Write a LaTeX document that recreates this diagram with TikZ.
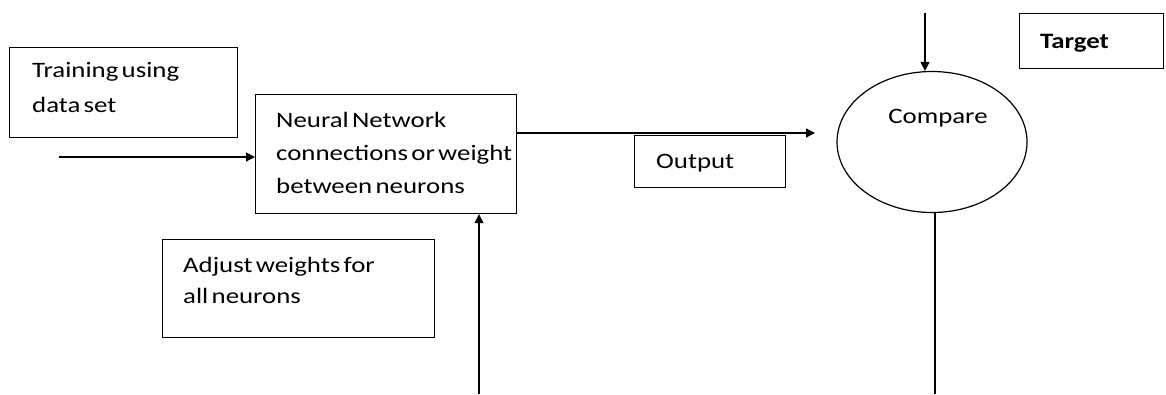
\documentclass[tikz,border=0pt]{standalone}
\usepackage{fontspec}
\setmainfont{Carlito}[FakeStretch=1.22, WordSpace=0.55]
\usetikzlibrary{arrows.meta,shapes.geometric}
\tikzset{
  box/.style={draw=black, line width=1.2pt, rectangle, anchor=north west, inner sep=0pt},
  txt/.style={anchor=base west, inner sep=0pt, align=left, text=black},
  conn/.style={line width=1.2pt, -{Triangle[length=9pt,width=9pt]}},
  plain/.style={line width=1.2pt}
}
\begin{document}
\begin{tikzpicture}[x=1pt, y=-1pt, font=\fontsize{22}{35}\selectfont]
\useasboundingbox (0,0) rectangle (1166,394);
% boxes
\node[box, minimum width=228pt, minimum height=90pt] (train) at (9,47) {};
\node[box, minimum width=261pt, minimum height=119pt] (nn) at (255,94) {};
\node[box, minimum width=151pt, minimum height=52pt] (out) at (634,135) {};
\node[box, minimum width=272pt, minimum height=98pt] (adj) at (162,239) {};
\node[box, minimum width=144pt, minimum height=55pt] (target) at (1019,13) {};
\node[draw=black, line width=1.2pt, ellipse, minimum width=190pt, minimum height=141pt, inner sep=0pt] (cmp) at (932,142) {};
% texts (anchored at the baseline of the last line)
\node[txt] (traint) at (32,112) {Training using\\data set};
\node[txt, font=\fontsize{22}{33}\selectfont] (nnt) at (276,193) {Neural Network\\connections or weight\\between neurons};
\node[txt] (outt) at (656,168) {Output};
\node[txt, font=\fontsize{22}{31}\selectfont] (adjt) at (183,303) {Adjust weights for\\all neurons};
\node[txt, font=\bfseries\fontsize{22}{35}\selectfont] (targett) at (1040,48) {Target};
\node[txt, anchor=base] (cmpt) at (938,123) {Compare};
% connectors
\coordinate (inS) at (59,157);
\coordinate (tgtS) at (925,13);
\coordinate (upS) at (479,394);
\coordinate (cmpE) at (935,394);
\coordinate (outE) at (815,133);
\draw[conn] (inS) -- (nn.west |- inS);
\draw[conn] (nn.east |- outE) -- (outE);
\draw[conn] (tgtS) -- (tgtS |- cmp.north);
\draw[conn] (upS) -- (upS |- nn.south);
\draw[plain] (cmp.south -| cmpE) -- (cmpE);
\end{tikzpicture}
\end{document}
